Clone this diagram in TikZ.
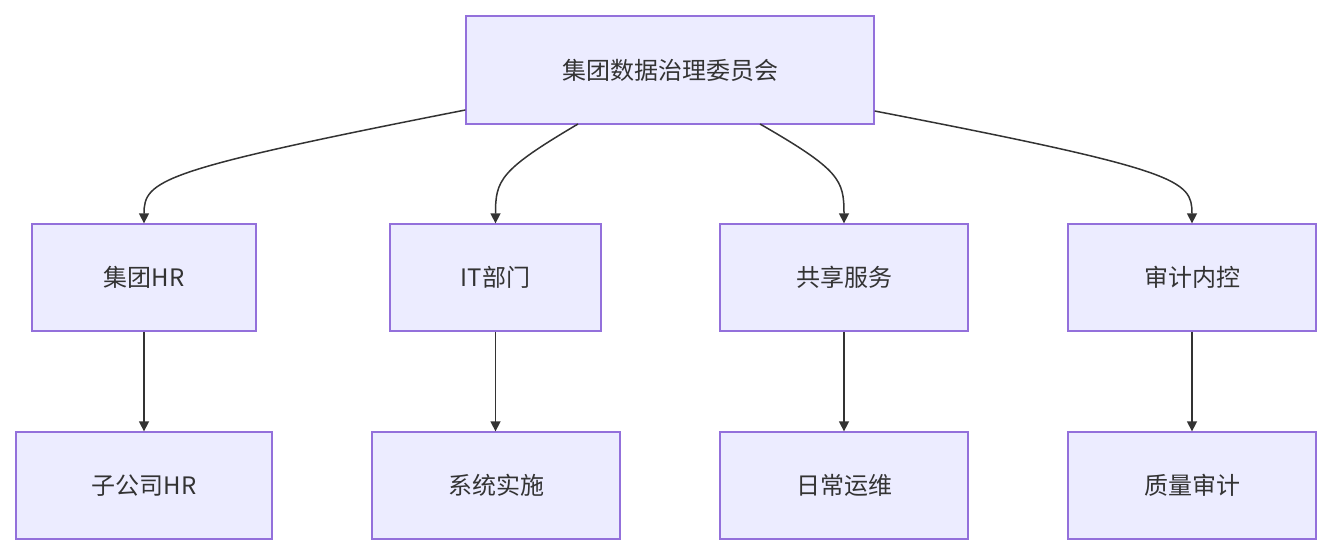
\documentclass[tikz,border=0pt]{standalone}
\usepackage{fontspec}
\setmainfont{Noto Sans CJK SC}
\usetikzlibrary{arrows.meta}
\definecolor{boxfill}{HTML}{ECECFF}
\definecolor{boxline}{HTML}{9370DB}
\definecolor{edge}{HTML}{333333}
\tikzset{
  box/.style={draw=boxline,fill=boxfill,line width=1.3pt,inner sep=0pt,
    font=\fontsize{24}{28}\selectfont,text=edge},
  link/.style={draw=edge,line width=1.5pt,-{Triangle[length=10pt,width=10pt]}}
}
\begin{document}
\begin{tikzpicture}[x=1pt,y=-1pt]
  \useasboundingbox (0,0) rectangle (1331,556);
  % top
  \node[box,minimum width=408pt,minimum height=108pt] (gov) at (670,70) {集团数据治理委员会};
  % second row
  \node[box,minimum width=224pt,minimum height=107pt] (hr) at (144,277.5) {集团HR};
  \node[box,minimum width=211pt,minimum height=107pt] (it) at (495.5,277.5) {IT部门};
  \node[box,minimum width=248pt,minimum height=107pt] (ss) at (844,277.5) {共享服务};
  \node[box,minimum width=248pt,minimum height=107pt] (au) at (1192,277.5) {审计内控};
  % third row
  \node[box,minimum width=256pt,minimum height=107pt] (sub) at (144,485.5) {子公司HR};
  \node[box,minimum width=248pt,minimum height=107pt] (sys) at (496,485.5) {系统实施};
  \node[box,minimum width=248pt,minimum height=107pt] (ops) at (844,485.5) {日常运维};
  \node[box,minimum width=248pt,minimum height=107pt] (qa) at (1192,485.5) {质量审计};
  % curved links
  \draw[link] (gov.west |- 0,110) .. controls (160,170) and (144,180) .. (hr.north);
  \draw[link] (578,124) .. controls (500,170) and (495.5,180) .. (it.north);
  \draw[link] (760,124) .. controls (840,170) and (844,180) .. (ss.north);
  \draw[link] (gov.east |- 0,111) .. controls (1180,170) and (1192,180) .. (au.north);
  % straight links
  \draw[link] (hr) -- (sub);
  \draw[link] (it.south) -- (it.south |- sys.north);
  \draw[link] (ss) -- (ops);
  \draw[link] (au) -- (qa);
\end{tikzpicture}
\end{document}
